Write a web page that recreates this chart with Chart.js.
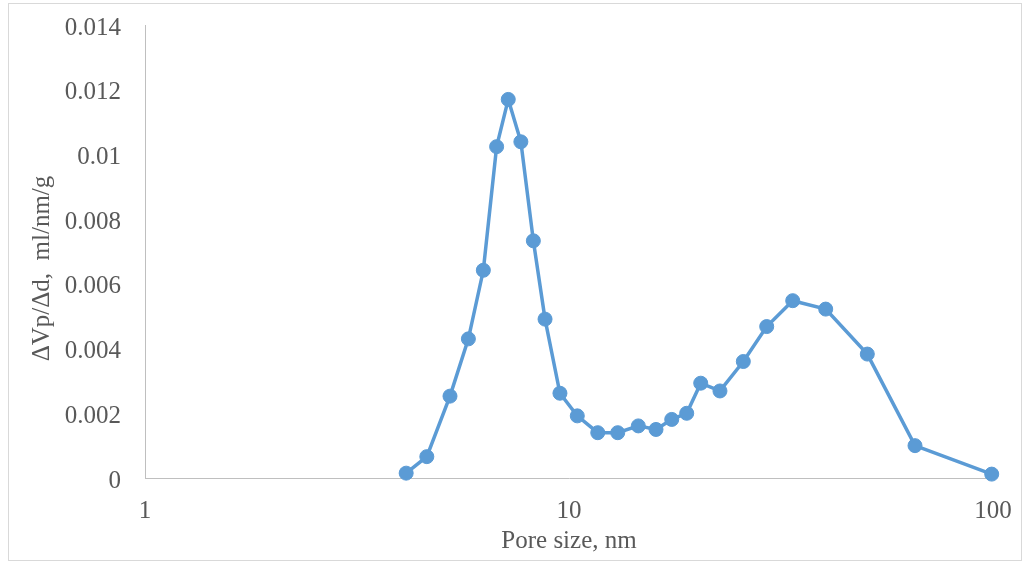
<!DOCTYPE html>
<html>
<head>
<meta charset="utf-8">
<script src="https://cdn.jsdelivr.net/npm/chart.js@4/dist/chart.umd.min.js"></script>
<style>
  html, body { margin: 0; padding: 0; background: #ffffff; }
  #wrap { width: 1022px; height: 562px; }
</style>
</head>
<body>
<div id="wrap"><canvas id="chart" width="1022" height="562"></canvas></div>
<script>
// Pore size distribution (BJH-style), log pore size axis
const poreSize = [4.13, 4.62, 5.24, 5.79, 6.28, 6.75, 7.19, 7.70, 8.24, 8.78, 9.52,
                  10.46, 11.69, 13.03, 14.57, 16.04, 17.47, 18.95, 20.45, 22.70,
                  25.77, 29.26, 33.70, 40.31, 50.53, 65.47, 99.3];
const dVdD = [0.00015, 0.00066, 0.00253, 0.0043, 0.00642, 0.01024, 0.0117, 0.01039,
              0.00733, 0.00491, 0.00262, 0.00192, 0.0014, 0.0014, 0.00161, 0.0015,
              0.00181, 0.002, 0.00293, 0.00269, 0.0036, 0.00468, 0.00548, 0.00522,
              0.00383, 0.001, 0.00012];

const xTicks = [1, 10, 100];
const yTicks = [0, 0.002, 0.004, 0.006, 0.008, 0.01, 0.012, 0.014];
const yTickLabels = ['0', '0.002', '0.004', '0.006', '0.008', '0.01', '0.012', '0.014'];

const xTitle = 'Pore size, nm';
const yTitle = 'ΔVp/Δd,  ml/nm/g';

const FONT = '"Liberation Serif", "Times New Roman", serif';
const FONT_SIZE = 25;
const TEXT = '#595959';
const BLUE = '#5B9BD5';
const AXIS = '#bfbfbf';

const points = poreSize.map((x, i) => ({ x: x, y: dVdD[i] }));

// white background, outer frame and the two axis titles
const decor = {
  id: 'decor',
  beforeDraw(chart) {
    const ctx = chart.ctx;
    ctx.save();
    ctx.fillStyle = '#ffffff';
    ctx.fillRect(0, 0, chart.width, chart.height);
    ctx.strokeStyle = '#d9d9d9';
    ctx.lineWidth = 1;
    ctx.strokeRect(8.5, 3.5, 1013, 557);
    ctx.restore();
  },
  afterDraw(chart) {
    const ctx = chart.ctx;
    const area = chart.chartArea;
    ctx.save();
    ctx.fillStyle = TEXT;
    ctx.font = FONT_SIZE + 'px ' + FONT;
    ctx.textAlign = 'center';
    ctx.textBaseline = 'alphabetic';
    ctx.fillText(xTitle, (area.left + area.right) / 2, 548);
    ctx.translate(49, (area.top + area.bottom) / 2 + 17);
    ctx.rotate(-Math.PI / 2);
    ctx.fillText(yTitle, 0, 0);
    ctx.restore();
  }
};

new Chart(document.getElementById('chart'), {
  type: 'line',
  data: {
    datasets: [{
      data: points,
      borderColor: BLUE,
      backgroundColor: BLUE,
      borderWidth: 3.5,
      pointRadius: 7,
      pointHoverRadius: 7,
      pointBackgroundColor: BLUE,
      pointBorderColor: BLUE,
      pointBorderWidth: 1,
      tension: 0,
      fill: false,
      clip: false
    }]
  },
  options: {
    responsive: false,
    animation: false,
    devicePixelRatio: 1,
    layout: { padding: { top: 25, right: 29, bottom: 0, left: 0 } },
    plugins: {
      legend: { display: false },
      tooltip: { enabled: false }
    },
    scales: {
      x: {
        type: 'logarithmic',
        min: 1,
        max: 100,
        afterBuildTicks(scale) { scale.ticks = xTicks.map(v => ({ value: v })); },
        afterFit(scale) {
          scale.height = 84;
          scale.paddingLeft = 0;
          scale.paddingRight = 0;
        },
        grid: { display: false, drawTicks: false },
        border: { display: true, color: AXIS, width: 1 },
        ticks: {
          padding: 18,
          color: TEXT,
          font: { family: FONT, size: FONT_SIZE },
          autoSkip: false,
          maxRotation: 0,
          callback: (v) => String(v)
        }
      },
      y: {
        type: 'linear',
        min: 0,
        max: 0.014,
        afterBuildTicks(scale) { scale.ticks = yTicks.map(v => ({ value: v })); },
        afterFit(scale) {
          scale.width = 145;
          scale.paddingTop = 0;
          scale.paddingBottom = 0;
        },
        grid: { display: false, drawTicks: false },
        border: { display: true, color: AXIS, width: 1 },
        ticks: {
          padding: 24,
          labelOffset: 3,
          color: TEXT,
          font: { family: FONT, size: FONT_SIZE },
          autoSkip: false,
          callback: (v, i) => yTickLabels[i]
        }
      }
    }
  },
  plugins: [decor]
});
</script>
</body>
</html>
